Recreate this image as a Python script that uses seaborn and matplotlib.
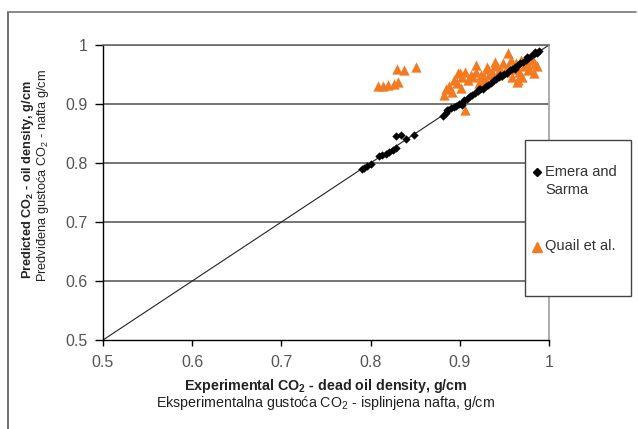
import matplotlib
matplotlib.use("Agg")
import matplotlib.pyplot as plt
import seaborn as sns
import pandas as pd
from matplotlib.lines import Line2D
from matplotlib.patches import Rectangle

# ---- data ----
emera_x = [0.790, 0.793, 0.796, 0.800, 0.809, 0.813, 0.817, 0.821, 0.825, 0.829,
           0.828, 0.834, 0.840, 0.849, 0.881, 0.884, 0.887, 0.890, 0.893, 0.896,
           0.899, 0.902, 0.905, 0.908, 0.911, 0.914, 0.917, 0.920, 0.923, 0.926,
           0.929, 0.932, 0.935, 0.938, 0.941, 0.944, 0.947, 0.950, 0.953, 0.956,
           0.959, 0.962, 0.965, 0.968, 0.971, 0.974, 0.977, 0.980, 0.983, 0.986, 0.989,
           0.886, 0.903, 0.921, 0.945, 0.962, 0.975, 0.984]
emera_y = [0.789, 0.792, 0.795, 0.798, 0.812, 0.814, 0.815, 0.819, 0.822, 0.826,
           0.845, 0.848, 0.840, 0.847, 0.880, 0.885, 0.889, 0.893, 0.895, 0.897,
           0.900, 0.902, 0.906, 0.909, 0.913, 0.915, 0.918, 0.922, 0.925, 0.926,
           0.930, 0.933, 0.935, 0.940, 0.942, 0.945, 0.948, 0.951, 0.953, 0.957,
           0.960, 0.962, 0.966, 0.969, 0.972, 0.974, 0.978, 0.981, 0.984, 0.987, 0.990,
           0.890, 0.898, 0.926, 0.950, 0.959, 0.979, 0.988]

quail_x = [0.808, 0.814, 0.820, 0.826, 0.831, 0.830, 0.838, 0.851,
           0.882, 0.885, 0.888, 0.891, 0.894, 0.897, 0.900, 0.903, 0.906, 0.906, 0.909,
           0.912, 0.915, 0.918, 0.921, 0.924, 0.927, 0.930, 0.933, 0.936, 0.939,
           0.942, 0.945, 0.948, 0.951, 0.954, 0.957, 0.960, 0.963, 0.964, 0.966,
           0.969, 0.972, 0.975, 0.978, 0.981, 0.984, 0.987, 0.970, 0.958, 0.976,
           0.918, 0.931, 0.954, 0.980, 0.898, 0.901, 0.965, 0.983, 0.940, 0.925]
quail_y = [0.930, 0.930, 0.932, 0.934, 0.938, 0.960, 0.958, 0.963,
           0.915, 0.925, 0.930, 0.920, 0.940, 0.935, 0.953, 0.945, 0.890, 0.955, 0.940,
           0.950, 0.945, 0.955, 0.935, 0.950, 0.945, 0.960, 0.950, 0.955, 0.965,
           0.950, 0.960, 0.970, 0.955, 0.965, 0.975, 0.960, 0.970, 0.938, 0.955,
           0.975, 0.965, 0.970, 0.960, 0.975, 0.968, 0.965, 0.945, 0.945, 0.958,
           0.966, 0.963, 0.986, 0.980, 0.953, 0.927, 0.941, 0.953, 0.972, 0.940]

series_names = ["Emera and\nSarma", "Quail et al."]
x_ticks = [0.5, 0.6, 0.7, 0.8, 0.9, 1.0]
x_tick_labels = ["0.5", "0.6", "0.7", "0.8", "0.9", "1"]
y_ticks = [0.5, 0.6, 0.7, 0.8, 0.9, 1.0]
y_tick_labels = ["0.5", "0.6", "0.7", "0.8", "0.9", "1"]

df = pd.DataFrame({
    "x": emera_x + quail_x,
    "y": emera_y + quail_y,
    "series": [series_names[0]] * len(emera_x) + [series_names[1]] * len(quail_x),
})

sns.set_style("white")
plt.rcParams["font.family"] = ["Liberation Sans", "DejaVu Sans"]
plt.rcParams["mathtext.fontset"] = "custom"
plt.rcParams["mathtext.rm"] = "Liberation Sans"
plt.rcParams["mathtext.bf"] = "Liberation Sans:bold"

W, H = 638, 429
fig = plt.figure(figsize=(W / 100, H / 100), dpi=100)
ax = fig.add_axes([103 / W, 1 - 340 / H, (549 - 103) / W, (340 - 45) / H])

orange = "#F47A22"
ax.plot([0.5, 1.0], [0.5, 1.0], color="#222222", lw=0.8, zorder=1)

sub = df[df.series == series_names[1]]
sns.scatterplot(data=sub, x="x", y="y", ax=ax, marker="^", color=orange,
                s=55, linewidth=0, zorder=3, legend=False)
sub = df[df.series == series_names[0]]
sns.scatterplot(data=sub, x="x", y="y", ax=ax, marker="D", color="black",
                s=18, linewidth=0, zorder=4, legend=False)

ax.set_xlim(0.5, 1.0)
ax.set_ylim(0.5, 1.0)
ax.set_xticks(x_ticks)
ax.set_xticklabels(x_tick_labels)
ax.set_yticks(y_ticks)
ax.set_yticklabels(y_tick_labels)
for yv in y_ticks[1:]:
    ax.axhline(yv, color="#6a6a6a", lw=1.3, zorder=0)

for s in ["top", "right"]:
    ax.spines[s].set_visible(True)
    ax.spines[s].set_color("#a0a0a0")
    ax.spines[s].set_linewidth(1.2)
ax.spines["top"].set_color("#6a6a6a")
for s in ["left", "bottom"]:
    ax.spines[s].set_color("black")
    ax.spines[s].set_linewidth(1.0)

ax.tick_params(axis="x", direction="out", length=4, width=1, color="black",
               labelsize=11.5, labelcolor="#555555", pad=7, bottom=True)
ax.tick_params(axis="y", direction="out", length=6, width=1, color="black",
               labelsize=11.5, labelcolor="#555555", pad=5, left=True)
ax.set_xlabel("")
ax.set_ylabel("")

# axis titles
fig.text(326 / W, 1 - 386 / H, r"Experimental CO$_\mathbf{2}$ - dead oil density, g/cm",
         ha="center", va="center", fontsize=10.3, fontweight="bold", color="#222222")
fig.text(326 / W, 1 - 403 / H, r"Eksperimentalna gustoća CO$_2$ - isplinjena nafta, g/cm",
         ha="center", va="center", fontsize=10.3, color="#222222")
fig.text(28 / W, 1 - 180 / H, r"Predicted CO$_\mathbf{2}$ - oil density, g/cm",
         ha="center", va="center", rotation=90, fontsize=9.2, fontweight="bold", color="#222222")
fig.text(43 / W, 1 - 176 / H, r"Predviđena gustoća CO$_2$ - nafta g/cm",
         ha="center", va="center", rotation=90, fontsize=9.2, color="#222222")

# legend box (drawn manually to match the reference placement)
fig.add_artist(Rectangle((525 / W, 1 - 296 / H), (631 - 525) / W, (296 - 140) / H,
                         transform=fig.transFigure, facecolor="white",
                         edgecolor="#444444", lw=1.0, zorder=5))
fig.add_artist(Line2D([537 / W], [1 - 172 / H], marker="D", color="black",
                      linestyle="", markersize=4, transform=fig.transFigure, zorder=6))
fig.add_artist(Line2D([537 / W], [1 - 247 / H], marker="^", color=orange,
                      linestyle="", markersize=6.5, transform=fig.transFigure, zorder=6))
fig.text(545 / W, 1 - 172 / H, "Emera and", ha="left", va="center",
         fontsize=10.5, color="#333333", zorder=7)
fig.text(545 / W, 1 - 190 / H, "Sarma", ha="left", va="center",
         fontsize=10.5, color="#333333", zorder=7)
fig.text(545 / W, 1 - 246 / H, series_names[1], ha="left", va="center",
         fontsize=10.5, color="#333333", zorder=7)

# outer frame (left and top)
fig.add_artist(Line2D([8 / W, 8 / W], [0, 1 - 12 / H], color="#555555", lw=1.2,
                      transform=fig.transFigure))
fig.add_artist(Line2D([8 / W, 636 / W], [1 - 12 / H, 1 - 12 / H], color="#777777",
                      lw=1.2, transform=fig.transFigure))

fig.savefig("out.png", dpi=100, facecolor="white")
